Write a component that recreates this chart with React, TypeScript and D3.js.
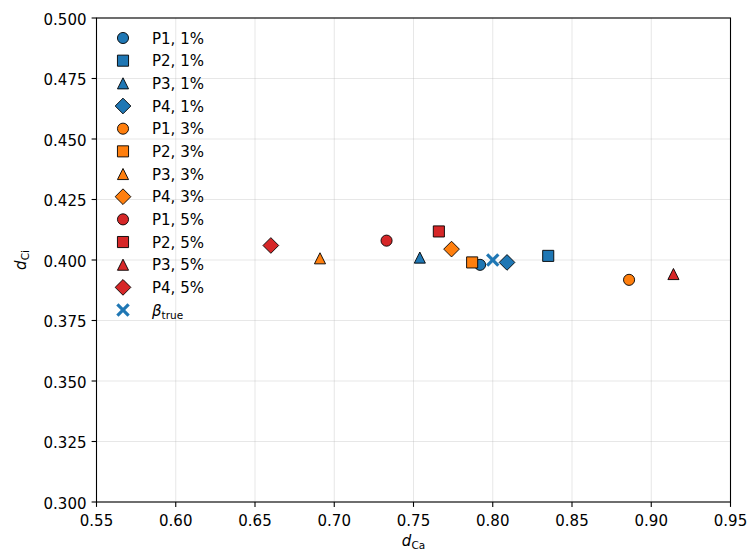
import React from 'react'
import * as d3 from 'd3'

// series: P1..P4 at 1%, 3%, 5% noise, plus the true value
const labels = ['P1, 1%', 'P2, 1%', 'P3, 1%', 'P4, 1%', 'P1, 3%', 'P2, 3%', 'P3, 3%', 'P4, 3%', 'P1, 5%', 'P2, 5%', 'P3, 5%', 'P4, 5%']
const shapes = ['circle', 'square', 'triangle', 'diamond', 'circle', 'square', 'triangle', 'diamond', 'circle', 'square', 'triangle', 'diamond']
const colors = ['#1f77b4', '#1f77b4', '#1f77b4', '#1f77b4', '#ff7f0e', '#ff7f0e', '#ff7f0e', '#ff7f0e', '#d62728', '#d62728', '#d62728', '#d62728']
const dCa = [0.792, 0.835, 0.754, 0.809, 0.886, 0.787, 0.691, 0.774, 0.733, 0.766, 0.914, 0.660]
const dCi = [0.398, 0.4017, 0.401, 0.399, 0.3918, 0.399, 0.4007, 0.4045, 0.408, 0.4118, 0.3942, 0.406]
const betaTrue = [0.80, 0.40]

const xTicks = [0.55, 0.6, 0.65, 0.7, 0.75, 0.8, 0.85, 0.9, 0.95]
const yTicks = [0.3, 0.325, 0.35, 0.375, 0.4, 0.425, 0.45, 0.475, 0.5]

const W = 750
const H = 553
const margin = { top: 18, right: 19.5, bottom: 51, left: 96.5 }
const FONT = 'DejaVu Sans, sans-serif'
const MS = 11.1

function markerPath(shape: string) {
  const h = MS / 2
  if (shape === 'circle') return d3.symbol(d3.symbolCircle, Math.PI * h * h)()
  if (shape === 'square') return `M${-h},${-h}H${h}V${h}H${-h}Z`
  if (shape === 'triangle') return `M0,${-h}L${-h},${h}L${h},${h}Z`
  const d = h * Math.SQRT2
  return `M0,${-d}L${d},0L0,${d}L${-d},0Z`
}

function Marker({ shape, color, x, y }: { shape: string; color: string; x: number; y: number }) {
  return (
    <path d={markerPath(shape) || ''} transform={`translate(${x},${y})`}
      fill={color} stroke="#000" strokeWidth={0.9} />
  )
}

function Cross({ x, y }: { x: number; y: number }) {
  const h = 5.6
  return (
    <g transform={`translate(${x},${y})`} stroke="#1f77b4" strokeWidth={3.2}>
      <line x1={-h} y1={-h} x2={h} y2={h} />
      <line x1={-h} y1={h} x2={h} y2={-h} />
    </g>
  )
}

export default function App() {
  const iw = W - margin.left - margin.right
  const ih = H - margin.top - margin.bottom
  const x = d3.scaleLinear().domain([0.55, 0.95]).range([0, iw])
  const y = d3.scaleLinear().domain([0.3, 0.5]).range([ih, 0])

  const legendX = 26.5
  const legendY = 20
  const legendStep = 22.67

  return (
    <svg width={W} height={H} style={{ position: 'absolute', left: 0, top: 0, background: '#fff' }}>
      <g transform={`translate(${margin.left},${margin.top})`} fontFamily={FONT}>
        {/* grid */}
        {xTicks.map(t => (
          <line key={'gx' + t} x1={x(t)} x2={x(t)} y1={0} y2={ih} stroke="#b0b0b0" strokeOpacity={0.3} strokeWidth={1} />
        ))}
        {yTicks.map(t => (
          <line key={'gy' + t} x1={0} x2={iw} y1={y(t)} y2={y(t)} stroke="#b0b0b0" strokeOpacity={0.3} strokeWidth={1} />
        ))}

        {/* points */}
        {dCa.map((v, i) => (
          <Marker key={labels[i]} shape={shapes[i]} color={colors[i]} x={x(v)} y={y(dCi[i])} />
        ))}
        <Cross x={x(betaTrue[0])} y={y(betaTrue[1])} />

        {/* frame */}
        <rect x={0} y={0} width={iw} height={ih} fill="none" stroke="#000" strokeWidth={1.1} />

        {/* x axis */}
        {xTicks.map(t => (
          <g key={'tx' + t} transform={`translate(${x(t)},${ih})`}>
            <line y2={4.9} stroke="#000" strokeWidth={1.1} />
            <text y={24} textAnchor="middle" fontSize={15} fill="#000">{t.toFixed(2)}</text>
          </g>
        ))}
        {/* y axis */}
        {yTicks.map(t => (
          <g key={'ty' + t} transform={`translate(0,${y(t)})`}>
            <line x2={-4.9} stroke="#000" strokeWidth={1.1} />
            <text x={-10} y={6.5} textAnchor="end" fontSize={15} fill="#000">{t.toFixed(3)}</text>
          </g>
        ))}

        {/* axis labels */}
        <text x={iw / 2} y={ih + 44} textAnchor="middle" fontSize={15} fill="#000">
          <tspan fontStyle="italic">d</tspan>
          <tspan fontSize={10.5} dy={2.5}>Ca</tspan>
        </text>
        <text transform={`translate(${-71},${ih / 2}) rotate(-90)`} textAnchor="middle" fontSize={15} fill="#000">
          <tspan fontStyle="italic">d</tspan>
          <tspan fontSize={10.5} dy={3}>Ci</tspan>
        </text>

        {/* legend */}
        {labels.map((l, i) => (
          <g key={'lg' + l} transform={`translate(${legendX},${legendY + i * legendStep})`}>
            <Marker shape={shapes[i]} color={colors[i]} x={0} y={0} />
            <text x={29} y={5.5} fontSize={15} fill="#000">{l}</text>
          </g>
        ))}
        <g transform={`translate(${legendX},${legendY + 12 * legendStep})`}>
          <Cross x={0} y={0} />
          <text x={29} y={5.5} fontSize={15} fill="#000">
            <tspan fontStyle="italic">β</tspan>
            <tspan fontSize={10.5} dy={3}>true</tspan>
          </text>
        </g>
      </g>
    </svg>
  )
}
